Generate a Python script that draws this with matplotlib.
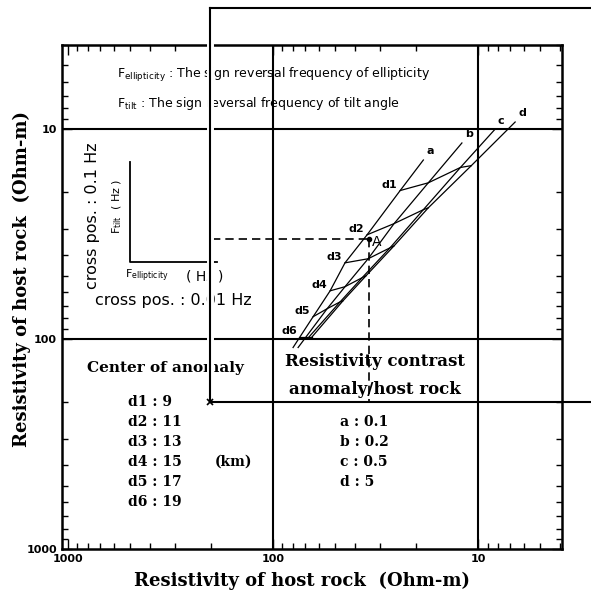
import matplotlib
matplotlib.use("Agg")
import matplotlib.pyplot as plt
from matplotlib.lines import Line2D

# points of each contrast line at depths d1..d6 (host rock resistivity, Ohm-m)
depth_labels = ["d1", "d2", "d3", "d4", "d5", "d6"]
a_x = [24.0, 34.8, 44.6, 52.7, 63.8, 73.9]
a_y = [19.7, 32.0, 43.5, 59.1, 78.5, 97.8]
b_x = [17.5, 25.7, 34.4, 44.6, 54.5, 69.0]
b_y = [18.1, 28.3, 41.6, 56.5, 71.9, 97.8]
c_x = [12.2, 18.5, 26.9, 36.8, 47.1, 66.7]
c_y = [15.3, 24.3, 36.9, 51.2, 66.7, 97.8]
d_x = [10.8, 17.5, 25.7, 35.2, 45.6, 64.5]
d_y = [15.0, 23.8, 36.1, 50.1, 65.9, 97.8]

# ends of the contrast lines beyond d1 / d6
contrast_labels = ["a", "b", "c", "d"]
top_x = [18.5, 12.0, 8.3, 6.6]
top_y = [14.1, 11.7, 10.1, 9.3]
bottom_x = [79.9, 75.5]
bottom_y = [110.0, 110.0]

# example point A and the callout level
A_x, A_y = 34.0, 33.4
callout_x, callout_y = 203.0, 200.0

depth_km = [9, 11, 13, 15, 17, 19]
contrast_values = ["0.1", "0.2", "0.5", "5"]

W, H = 591, 592
fig = plt.figure(figsize=(W / 100, H / 100), dpi=100)
ax = fig.add_axes([62 / W, 1 - 549 / H, 500 / W, 504 / H])
ax.set_xscale("log")
ax.set_yscale("log")
ax.set_xlim(1070, 3.9)
ax.set_ylim(1000, 4.0)

for s in ax.spines.values():
    s.set_linewidth(1.8)
ax.tick_params(which="both", direction="in", top=True, right=True, width=1.0)
ax.tick_params(which="major", length=7)
ax.tick_params(which="minor", length=4)
ax.set_xticks([1000, 100, 10])
ax.set_xticklabels(["1000", "100", "10"])
ax.set_yticks([10, 100, 1000])
ax.set_yticklabels(["10", "100", "1000"])
for lab in ax.get_xticklabels() + ax.get_yticklabels():
    lab.set_fontsize(8)
    lab.set_fontweight("bold")

serif = {"family": "DejaVu Serif", "weight": "bold"}
ax.set_xlabel("Resistivity of host rock  (Ohm-m)", fontsize=13, **serif)
ax.set_ylabel("Resistivity of host rock  (Ohm-m)", fontsize=13, **serif)
ax.xaxis.set_label_coords(0.48, -0.045)
ax.yaxis.set_label_coords(-0.062, 0.535)

for v in [100, 10]:
    ax.axvline(v, color="k", lw=1.5)
    ax.axhline(v, color="k", lw=1.5)

# contrast lines a-d
xs_all = [a_x, b_x, c_x, d_x]
ys_all = [a_y, b_y, c_y, d_y]
for i, name in enumerate(contrast_labels):
    xs = [top_x[i]] + xs_all[i]
    ys = [top_y[i]] + ys_all[i]
    if i < len(bottom_x):
        xs = xs + [bottom_x[i]]
        ys = ys + [bottom_y[i]]
    ax.plot(xs, ys, color="k", lw=0.9)
    ax.annotate(name, (top_x[i], top_y[i]), xytext=(3, 4), textcoords="offset pixels",
                fontsize=8, fontweight="bold", ha="left", va="bottom")

# depth curves d1-d6
for j, name in enumerate(depth_labels):
    xs = [a_x[j], b_x[j], c_x[j], d_x[j]]
    ys = [a_y[j], b_y[j], c_y[j], d_y[j]]
    ax.plot(xs, ys, color="k", lw=0.9)
    ax.annotate(name, (a_x[j], a_y[j]), xytext=(-3, 1), textcoords="offset pixels",
                fontsize=8, fontweight="bold", ha="right", va="bottom")

# point A with dashed guides
ax.plot(A_x, A_y, "ko", ms=3)
ax.annotate("A", (A_x, A_y), xytext=(3, -3), textcoords="offset pixels", fontsize=10, va="center")
ax.plot([callout_x * 0.975, A_x], [A_y, A_y], color="k", lw=1.2, dashes=(5, 3))
ax.plot([A_x, A_x], [A_y, callout_y], color="k", lw=1.2, dashes=(5, 3))

# schematic small axes
ax.add_line(Line2D([0.136, 0.136, 0.31], [0.767, 0.570, 0.570], transform=ax.transAxes,
                   color="k", lw=1.3))


def fx(px):
    return px / W


def fy(py):
    return 1 - py / H


fig.text(fx(117), fy(75), r"F$_{\rm ellipticity}$ : The sign reversal frequency of ellipticity",
         fontsize=9, va="center")
fig.text(fx(117), fy(103), r"F$_{\rm tilt}$ : The sign reversal frequency of tilt angle",
         fontsize=9, va="center")
fig.text(fx(117), fy(206), r"F$_{\rm tilt}$  ( Hz )", rotation=90, fontsize=8,
         ha="center", va="center")
fig.text(fx(92), fy(216), "cross pos. : 0.1 Hz", rotation=90, fontsize=11.5,
         ha="center", va="center")
fig.text(fx(125), fy(276), r"F$_{\rm ellipticity}$", fontsize=8, va="center")
fig.text(fx(186), fy(276), "( Hz )", fontsize=10, va="center")
fig.text(fx(95), fy(300), "cross pos. : 0.01 Hz", fontsize=11.5, va="center")

fig.text(fx(165), fy(368), "Center of anomaly", fontsize=11, ha="center", va="center", **serif)
for k, (name, km) in enumerate(zip(depth_labels, depth_km)):
    fig.text(fx(128), fy(402 + 20 * k), f"{name} : {km}", fontsize=10, va="center", **serif)
fig.text(fx(215), fy(462), "(km)", fontsize=10, va="center", **serif)

fig.text(fx(375), fy(362), "Resistivity contrast", fontsize=12, ha="center", va="center", **serif)
fig.text(fx(375), fy(390), "anomaly/host rock", fontsize=12, ha="center", va="center", **serif)
for k, (name, val) in enumerate(zip(contrast_labels, contrast_values)):
    fig.text(fx(340), fy(422 + 20 * k), f"{name} : {val}", fontsize=10, va="center", **serif)

# callout bracket drawn over the figure
for col, lw in [("white", 5), ("black", 1.5)]:
    fig.add_artist(Line2D([fx(210), fx(210)], [fy(8), fy(402)], transform=fig.transFigure,
                          color=col, lw=lw, zorder=10 if col == "black" else 9))
fig.add_artist(Line2D([fx(210), 1.0], [fy(8), fy(8)], transform=fig.transFigure,
                      color="k", lw=1.5, zorder=10))
fig.add_artist(Line2D([fx(212), 1.0], [fy(402), fy(402)], transform=fig.transFigure,
                      color="k", lw=1.5, zorder=10))
fig.add_artist(Line2D([fx(210)], [fy(402)], transform=fig.transFigure, marker="x",
                      color="k", ms=4, mew=1.2, zorder=10))

fig.savefig("out.png", dpi=100)
